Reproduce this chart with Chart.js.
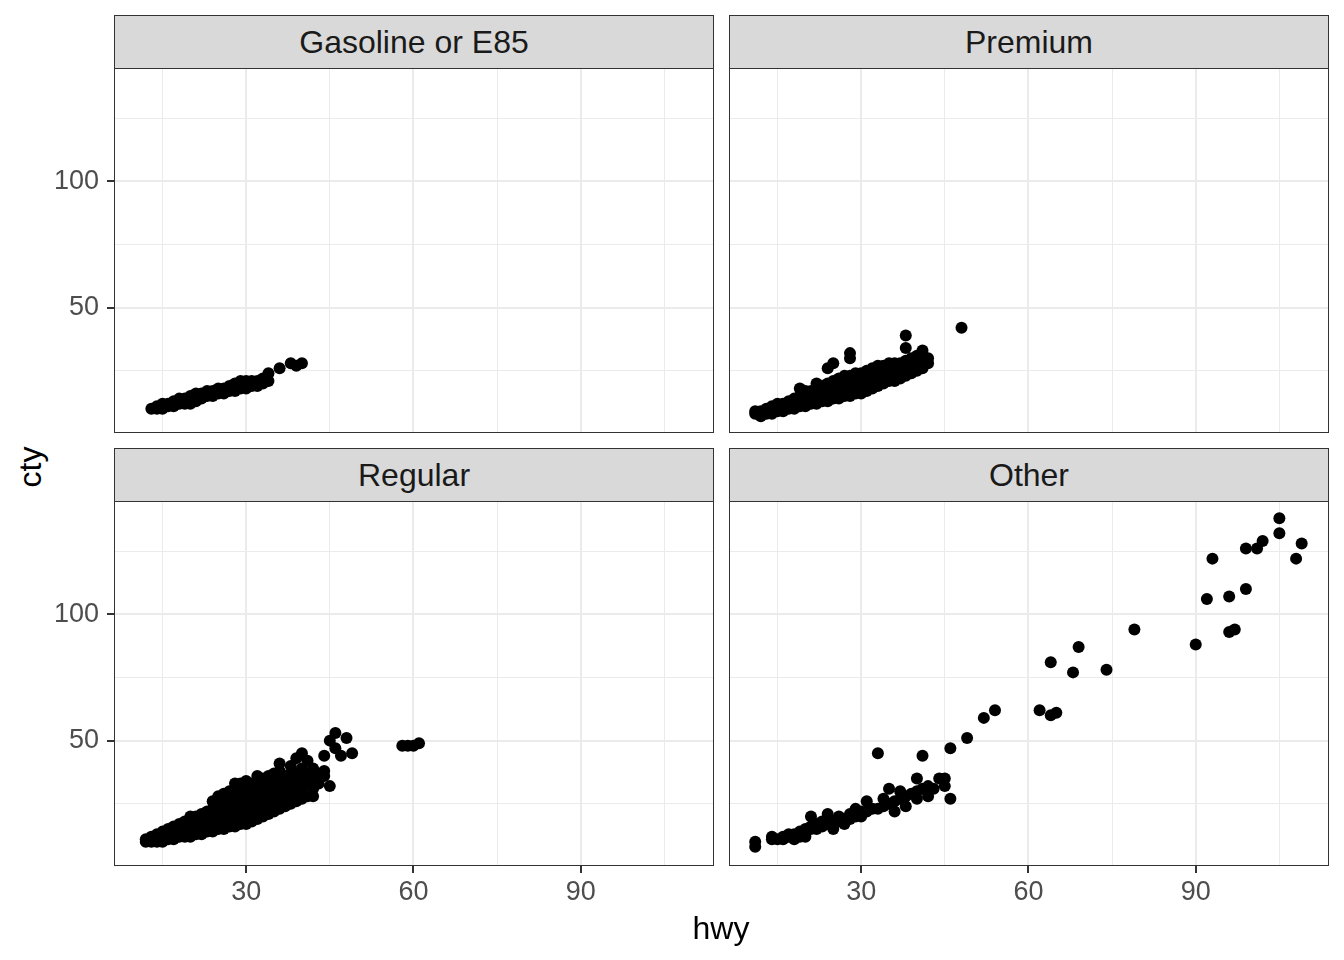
<!DOCTYPE html>
<html>
<head>
<meta charset="utf-8">
<script src="https://cdn.jsdelivr.net/npm/chart.js@4.4.1/dist/chart.umd.min.js"></script>
<style>
  body { margin: 0; background: #fff; width: 1344px; height: 960px; position: relative; overflow: hidden;
         font-family: "Liberation Sans", Arial, sans-serif; }
  canvas { position: absolute; }
  .strip { position: absolute; box-sizing: border-box; border: 1px solid #333; background: #d9d9d9;
           color: #1a1a1a; font-size: 32px; text-align: center; line-height: 52px; width: 600px; height: 54px; }
  .title { position: absolute; color: #000; font-size: 32px; white-space: nowrap; }
</style>
</head>
<body>
<div class="strip" id="s0" style="left:114px; top:15px;"></div>
<div class="strip" id="s1" style="left:729px; top:15px;"></div>
<div class="strip" id="s2" style="left:114px; top:448px;"></div>
<div class="strip" id="s3" style="left:729px; top:448px;"></div>

<canvas id="p0" width="714" height="365" style="left:0; top:68px;"></canvas>
<canvas id="p1" width="600" height="365" style="left:729px; top:68px;"></canvas>
<canvas id="p2" width="714" height="410" style="left:0; top:501px;"></canvas>
<canvas id="p3" width="600" height="410" style="left:729px; top:501px;"></canvas>

<div class="title" style="left:30px; top:467px; transform: translate(-50%, -50%) rotate(-90deg);">cty</div>
<div class="title" style="left:721px; top:928px; transform: translate(-50%, -50%);">hwy</div>

<script>
// facet labels
const panelTitles = ['Gasoline or E85', 'Premium', 'Regular', 'Other'];

// axis breaks
const xBreaks = [30, 60, 90];
const xMinor = [15, 45, 75, 105];
const yBreaks = [50, 100];
const yMinor = [25, 75, 125];

// [hwy, cty]
const gasolinePts = [
    [13,10],[14,10],[14,11],[15,10],[15,11],[15,12],[16,11],[16,12],[17,11],[17,12],[17,13],
    [18,12],[18,13],[18,14],[19,12],[19,13],[19,14],[20,12],[20,13],[20,14],[20,15],[21,13],
    [21,14],[21,15],[21,16],[22,14],[22,15],[22,16],[23,15],[23,16],[23,17],[24,15],[24,16],
    [24,17],[25,16],[25,17],[25,18],[26,16],[26,17],[26,18],[27,17],[27,18],[27,19],[28,17],
    [28,18],[28,19],[28,20],[29,18],[29,19],[29,20],[29,21],[30,18],[30,19],[30,20],[30,21],
    [31,19],[31,20],[31,21],[32,19],[32,21],[33,20],[33,22],[34,21],[34,24],[36,26],[38,28],
    [39,27],[40,28]
];

const premiumPts = [
    [11,8],[11,9],[12,7],[12,8],[12,9],[13,8],[13,9],[13,10],[14,8],[14,9],[14,10],[14,11],
    [15,9],[15,10],[15,11],[15,12],[16,9],[16,10],[16,11],[16,12],[17,10],[17,11],[17,12],[17,13],
    [18,10],[18,11],[18,12],[18,13],[18,14],[19,11],[19,12],[19,13],[19,14],[19,15],[19,18],
    [20,11],[20,12],[20,13],[20,14],[20,15],[20,16],[20,17],[21,12],[21,13],[21,14],[21,15],[21,16],[21,17],
    [22,12],[22,13],[22,14],[22,15],[22,16],[22,18],[22,20],[23,13],[23,14],[23,15],[23,16],[23,17],[23,18],[23,19],
    [24,13],[24,14],[24,16],[24,17],[24,19],[24,20],[24,26],[25,14],[25,15],[25,16],[25,18],[25,20],[25,21],[25,28],
    [26,14],[26,15],[26,17],[26,19],[26,21],[26,22],[27,15],[27,16],[27,18],[27,20],[27,22],[27,23],
    [28,15],[28,17],[28,19],[28,21],[28,23],[28,30],[28,32],[29,16],[29,18],[29,20],[29,22],[29,24],
    [30,16],[30,18],[30,20],[30,22],[30,24],[31,17],[31,19],[31,21],[31,23],[31,25],
    [32,18],[32,20],[32,22],[32,24],[32,26],[33,19],[33,21],[33,23],[33,25],[33,27],
    [34,20],[34,22],[34,24],[34,26],[34,27],[35,21],[35,23],[35,25],[35,27],[35,28],
    [36,21],[36,23],[36,25],[36,27],[36,28],[37,22],[37,24],[37,26],[37,28],
    [38,23],[38,25],[38,27],[38,29],[38,34],[38,39],[39,24],[39,26],[39,28],[39,30],
    [40,25],[40,27],[40,29],[40,31],[41,26],[41,28],[41,30],[41,33],[42,28],[42,30],[48,42]
];

const regularPts = [
    [12,10],[12,11],[13,10],[13,11],[13,12],[14,10],[14,11],[14,12],[14,13],
    [15,10],[15,11],[15,12],[15,13],[15,14],[16,11],[16,12],[16,13],[16,14],[16,15],
    [17,11],[17,12],[17,13],[17,14],[17,15],[17,16],[18,12],[18,13],[18,14],[18,15],[18,16],[18,17],
    [19,12],[19,14],[19,16],[19,18],[20,12],[20,13],[20,15],[20,17],[20,19],[20,20],
    [21,13],[21,14],[21,16],[21,18],[21,20],[22,13],[22,15],[22,17],[22,19],[22,21],
    [23,14],[23,15],[23,17],[23,19],[23,22],[24,14],[24,16],[24,18],[24,20],[24,23],[24,26],
    [25,15],[25,16],[25,19],[25,22],[25,25],[25,28],[26,15],[26,17],[26,20],[26,23],[26,26],[26,29],
    [27,16],[27,18],[27,21],[27,24],[27,27],[27,30],[28,16],[28,19],[28,22],[28,25],[28,28],[28,31],[28,33],
    [29,17],[29,20],[29,23],[29,26],[29,29],[29,32],[29,33],[30,17],[30,20],[30,23],[30,26],[30,29],[30,32],[30,34],
    [31,18],[31,21],[31,24],[31,27],[31,30],[31,33],[32,19],[32,22],[32,25],[32,28],[32,31],[32,34],[32,36],
    [33,20],[33,23],[33,26],[33,29],[33,32],[33,35],[34,21],[34,24],[34,27],[34,30],[34,33],[34,36],
    [35,22],[35,25],[35,28],[35,31],[35,34],[35,37],[36,23],[36,26],[36,29],[36,32],[36,35],[36,38],[36,41],
    [37,24],[37,27],[37,30],[37,33],[37,36],[38,25],[38,28],[38,31],[38,34],[38,37],[38,40],
    [39,26],[39,29],[39,33],[39,37],[39,43],[40,27],[40,31],[40,35],[40,39],[40,45],
    [41,28],[41,33],[41,37],[41,42],[42,28],[42,31],[42,34],[42,39],[43,33],[43,37],
    [44,36],[44,38],[44,44],[45,32],[45,50],[46,47],[46,53],[47,44],[48,51],[49,45],
    [58,48],[59,48],[60,48],[61,49]
];

const otherPts = [
    [11,8],[11,10],[14,11],[14,12],[15,11],[16,11],[16,12],[17,12],[17,13],[18,11],[18,13],
    [19,12],[19,13],[19,14],[20,12],[20,14],[20,15],[21,15],[21,16],[21,20],[22,15],[22,17],[23,16],[23,18],[24,17],
    [24,19],[24,21],[25,15],[25,18],[26,18],[26,20],[27,17],[27,19],[28,19],[28,21],[29,20],[29,23],
    [30,20],[30,22],[31,22],[31,26],[32,23],[33,23],[33,45],[34,24],[34,27],[35,25],[35,31],[36,22],
    [36,26],[37,27],[37,30],[38,24],[38,28],[39,29],[40,27],[40,30],[40,35],[41,31],[41,44],[42,28],[42,32],
    [43,31],[44,35],[45,32],[45,35],[46,27],[46,47],[49,51],[52,59],[54,62],[62,62],[64,60],[65,61],
    [64,81],[68,77],[69,87],[74,78],[79,94],[90,88],[92,106],[93,122],[96,93],[97,94],[96,107],
    [99,110],[99,126],[101,126],[102,129],[105,132],[105,138],[108,122],[109,128]
];

const FONT = '"Liberation Sans", Arial, sans-serif';

// theme_bw style border around each panel
const panelBorder = {
    id: 'panelBorder',
    afterDatasetsDraw(chart) {
        const { ctx, chartArea: a } = chart;
        ctx.save();
        ctx.strokeStyle = '#333333';
        ctx.lineWidth = 1;
        ctx.strokeRect(a.left + 0.5, a.top + 0.5, a.right - a.left - 1, a.bottom - a.top - 1);
        ctx.restore();
    }
};

function makePanel(id, points, showX, showY) {
    const ctx = document.getElementById(id);
    const xAll = xMinor.concat(xBreaks).sort((a, b) => a - b);
    const yAll = yMinor.concat(yBreaks).sort((a, b) => a - b);

    return new Chart(ctx, {
        type: 'scatter',
        data: {
            datasets: [{
                data: points.map(p => ({ x: p[0], y: p[1] })),
                backgroundColor: '#000000',
                borderWidth: 0,
                pointRadius: 6,
                pointHoverRadius: 6
            }]
        },
        options: {
            responsive: false,
            animation: false,
            events: [],
            layout: { padding: 0, autoPadding: false },
            plugins: {
                legend: { display: false },
                tooltip: { enabled: false }
            },
            scales: {
                x: {
                    type: 'linear',
                    min: 6.3,
                    max: 113.9,
                    afterBuildTicks: s => { s.ticks = xAll.map(v => ({ value: v })); },
                    afterFit: s => {
                        s.height = showX ? 45 : 0;
                        s.paddingLeft = 0; s.paddingRight = 0;
                    },
                    border: { display: false },
                    grid: {
                        color: '#ebebeb',
                        lineWidth: c => xBreaks.includes(c.tick.value) ? 2 : 1,
                        drawTicks: showX,
                        tickLength: 7,
                        tickWidth: 2,
                        tickColor: c => xBreaks.includes(c.tick.value) ? '#333333' : 'rgba(0,0,0,0)'
                    },
                    ticks: {
                        display: showX,
                        autoSkip: false,
                        maxRotation: 0,
                        padding: 3,
                        color: '#4d4d4d',
                        font: { family: FONT, size: 27 },
                        callback: v => xBreaks.includes(v) ? String(v) : ''
                    }
                },
                y: {
                    type: 'linear',
                    min: 0.4,
                    max: 144.8,
                    afterBuildTicks: s => { s.ticks = yAll.map(v => ({ value: v })); },
                    afterFit: s => {
                        s.width = showY ? 114 : 0;
                        s.paddingTop = 0; s.paddingBottom = 0;
                    },
                    border: { display: false },
                    grid: {
                        color: '#ebebeb',
                        lineWidth: c => yBreaks.includes(c.tick.value) ? 2 : 1,
                        drawTicks: showY,
                        tickLength: 7,
                        tickWidth: 2,
                        tickColor: c => yBreaks.includes(c.tick.value) ? '#333333' : 'rgba(0,0,0,0)'
                    },
                    ticks: {
                        display: showY,
                        autoSkip: false,
                        padding: 8,
                        color: '#4d4d4d',
                        font: { family: FONT, size: 27 },
                        callback: v => yBreaks.includes(v) ? String(v) : ''
                    }
                }
            }
        },
        plugins: [panelBorder]
    });
}

panelTitles.forEach((t, i) => { document.getElementById('s' + i).textContent = t; });

makePanel('p0', gasolinePts, false, true);
makePanel('p1', premiumPts, false, false);
makePanel('p2', regularPts, true, true);
makePanel('p3', otherPts, true, false);
</script>
</body>
</html>
